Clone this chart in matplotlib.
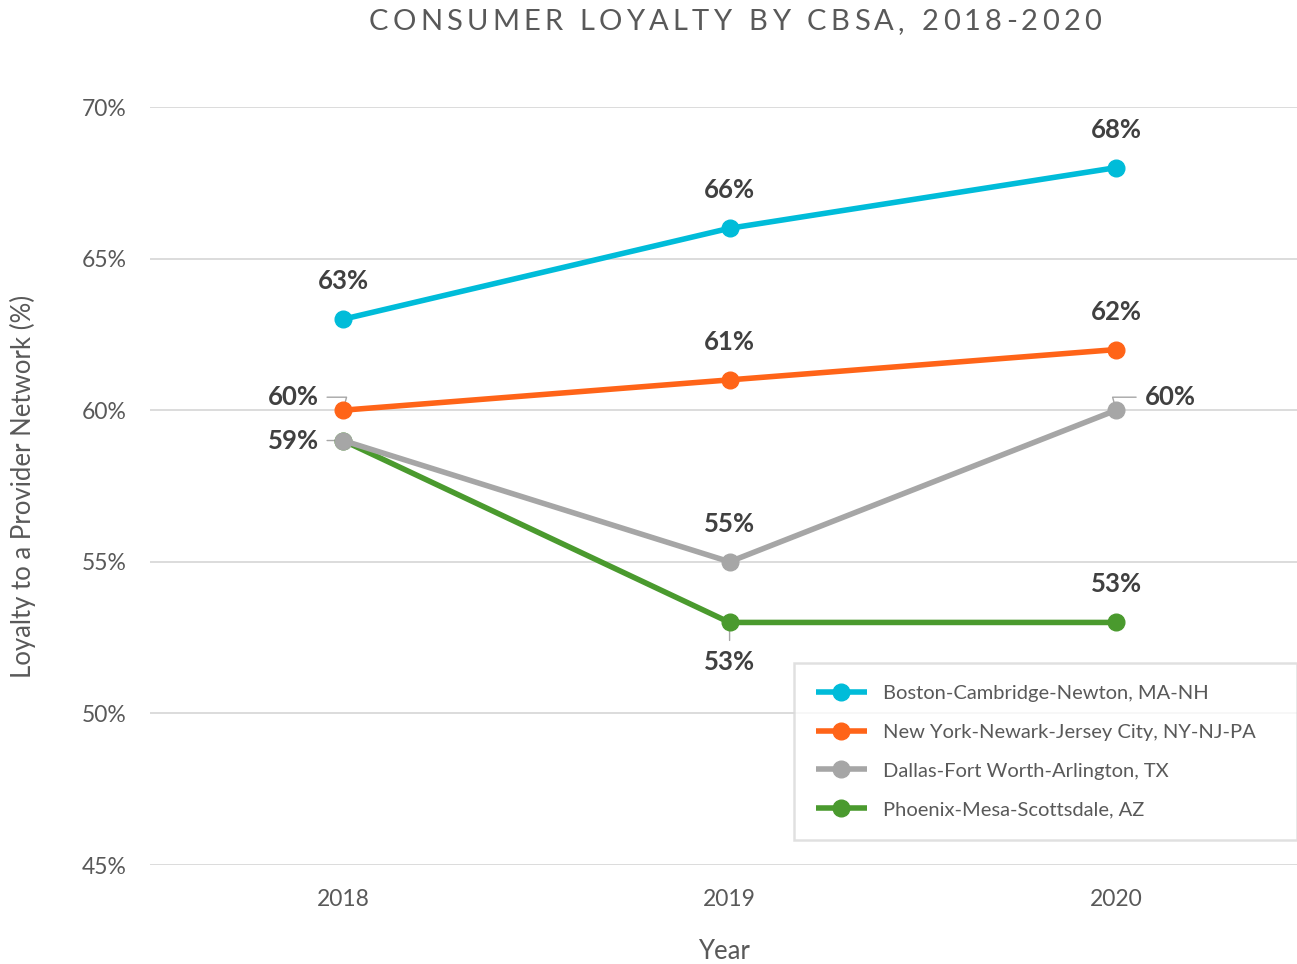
import matplotlib
matplotlib.use("Agg")
import matplotlib.pyplot as plt

years = ["2018", "2019", "2020"]
series_names = ["Boston-Cambridge-Newton, MA-NH",
                "New York-Newark-Jersey City, NY-NJ-PA",
                "Dallas-Fort Worth-Arlington, TX",
                "Phoenix-Mesa-Scottsdale, AZ"]
boston = [63, 66, 68]
newyork = [60, 61, 62]
dallas = [59, 55, 60]
phoenix = [59, 53, 53]
colors = ["#00BCD9", "#FF6418", "#A6A6A6", "#4A9A2E"]
yticks = [45, 50, 55, 60, 65, 70]

plt.rcParams['font.family'] = ['Lato', 'DejaVu Sans']

W, H = 1297, 964
fig = plt.figure(figsize=(W / 100, H / 100), dpi=100)
ax = fig.add_axes([150 / W, (H - 865) / H, 1 - 150 / W, (865 - 107) / H])

x = list(range(len(years)))
all_series = [boston, newyork, dallas, phoenix]
for vals, name, c, z in zip(all_series, series_names, colors, [5, 5, 4, 3]):
    ax.plot(x, vals, color=c, lw=4, marker='o', ms=12, label=name,
            zorder=z, solid_capstyle='butt')

ax.set_xlim(-0.4995, 2.468)
ax.set_ylim(45, 70)
ax.set_yticks(yticks)
ax.set_yticklabels([f"{v}%" for v in yticks])
ax.set_xticks(x)
ax.set_xticklabels(years)
ax.grid(axis='y', color='#D9D9D9', lw=1.3, zorder=0)
ax.set_axisbelow(True)
for s in ax.spines.values():
    s.set_visible(False)
ax.tick_params(axis='both', length=0, labelsize=16.5, labelcolor='#595959')
ax.tick_params(axis='y', pad=17)
ax.tick_params(axis='x', pad=17)
ax.set_xlabel("Year", fontsize=18.5, color='#595959', labelpad=21)
ax.set_ylabel("Loyalty to a Provider Network (%)", fontsize=18.5, color='#595959', labelpad=33)

lab = dict(fontsize=18.5, fontweight='bold', color='#404040', zorder=6)

def above(xi, v):
    ax.annotate(f"{v}%", (xi, v), xytext=(0, 38), textcoords='offset pixels',
                ha='center', va='center', **lab)

for xi, v in enumerate(boston):
    above(xi, v)
above(1, newyork[1]); above(2, newyork[2])
above(1, dallas[1])
above(2, phoenix[2])

gl = dict(color='#A6A6A6', lw=1.0, shrinkA=0, shrinkB=0)
# 60% (New York 2018) left with leader
ax.annotate(f"{newyork[0]}%", (0, newyork[0]), xytext=(-24, 13), textcoords='offset pixels',
            ha='right', va='center', **lab)
ax.annotate("", (0, newyork[0]), xytext=(-16, 13), textcoords='offset pixels',
            arrowprops=dict(arrowstyle='-', connectionstyle='angle,angleA=0,angleB=75,rad=0', **gl),
            zorder=2)
# 59% left
ax.annotate(f"{dallas[0]}%", (0, dallas[0]), xytext=(-24, 0), textcoords='offset pixels',
            ha='right', va='center', **lab)
ax.annotate("", (0, dallas[0]), xytext=(-16, 0), textcoords='offset pixels',
            arrowprops=dict(arrowstyle='-', **gl), zorder=2)
# 60% (Dallas 2020) right
ax.annotate(f"{dallas[2]}%", (2, dallas[2]), xytext=(29, 13), textcoords='offset pixels',
            ha='left', va='center', **lab)
ax.annotate("", (2, dallas[2]), xytext=(20, 13), textcoords='offset pixels',
            arrowprops=dict(arrowstyle='-', connectionstyle='angle,angleA=0,angleB=105,rad=0', **gl),
            zorder=2)
# 53% (Phoenix 2019) below
ax.annotate(f"{phoenix[1]}%", (1, phoenix[1]), xytext=(0, -40), textcoords='offset pixels',
            ha='center', va='center', **lab)
ax.annotate("", (1, phoenix[1]), xytext=(0, -18), textcoords='offset pixels',
            arrowprops=dict(arrowstyle='-', **gl), zorder=2)

leg = fig.legend(loc='upper left',
                 bbox_to_anchor=(794 / W, 1 - 835 / H, (W - 794) / W, (835 - 663) / H),
                 mode='expand', borderaxespad=0, fancybox=False, frameon=True,
                 fontsize=14.5, handlelength=2.5, handletextpad=0.8, labelspacing=1.07,
                 borderpad=1.1, labelcolor='#595959')
leg.get_frame().set_edgecolor('#D9D9D9')
leg.get_frame().set_linewidth(1.8)

# title with letter spacing
title = "CONSUMER LOYALTY BY CBSA, 2018-2020"
fig.canvas.draw()
r = fig.canvas.get_renderer()
tp = dict(fontsize=21, color='#595959')
spacing = 4.2
widths = []
for ch in title:
    t = fig.text(0, 0, ch if ch != ' ' else 'n', **tp)
    bb = t.get_window_extent(r)
    widths.append(bb.width if ch != ' ' else bb.width * 0.55)
    t.remove()
total = sum(widths) + spacing * (len(title) - 1)
cx = 735
xpos = cx - total / 2
for ch, w in zip(title, widths):
    fig.text(xpos / W, 1 - 22 / H, ch, ha='left', va='center', **tp)
    xpos += w + spacing

fig.savefig("out.png", dpi=100)
